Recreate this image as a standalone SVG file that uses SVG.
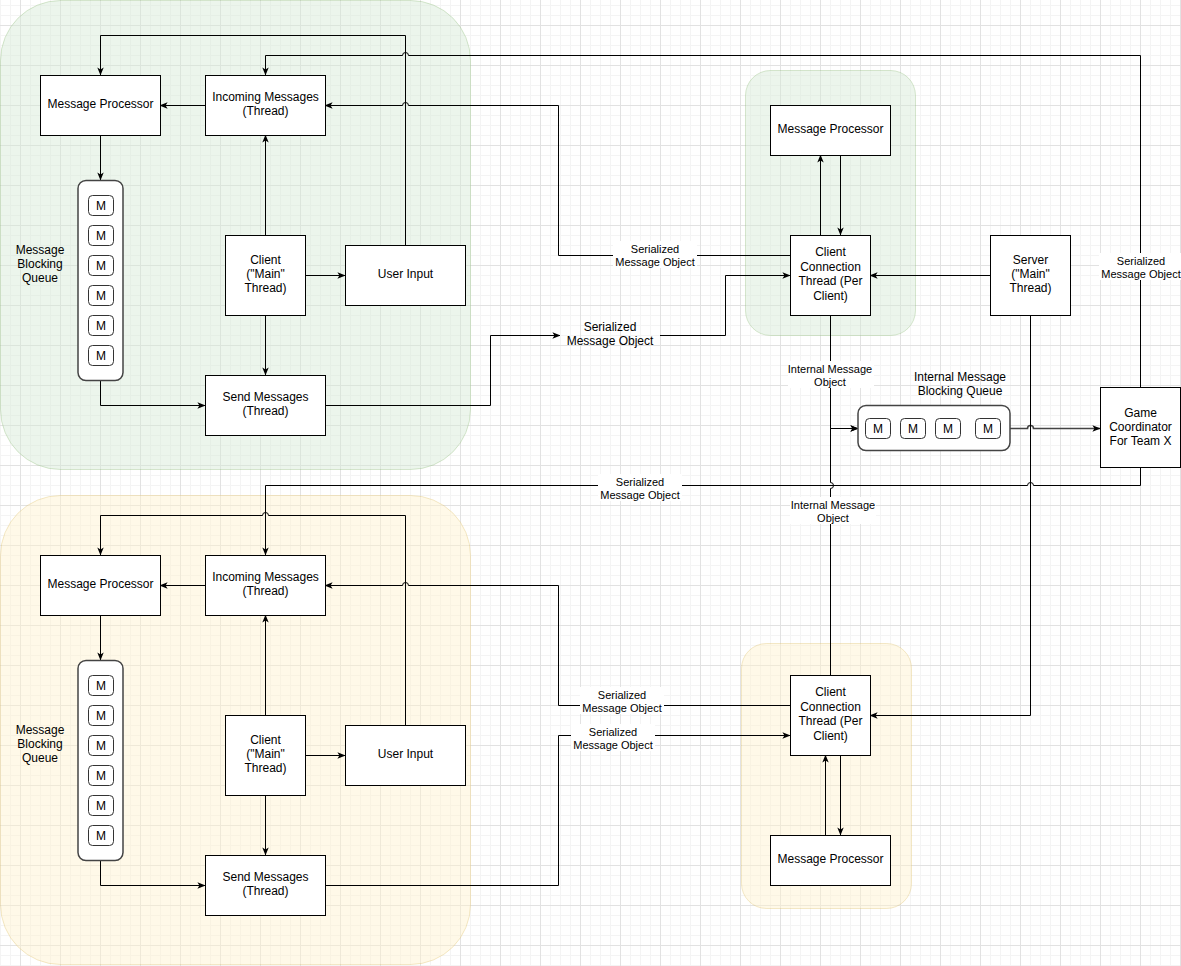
<svg xmlns="http://www.w3.org/2000/svg" width="1181" height="966" viewBox="0 0 1181 966">
<defs>
<pattern id="grid" x="20" y="25" width="40" height="40" patternUnits="userSpaceOnUse">
<path d="M10.5,0V40M20.5,0V40M30.5,0V40M0,10.5H40M0,20.5H40M0,30.5H40" stroke="#f4f4f4" stroke-width="1" fill="none"/>
<path d="M0.5,0V40M0,0.5H40" stroke="#e2e2e2" stroke-width="1" fill="none"/>
</pattern>
<marker id="arr" viewBox="0 0 10 10" refX="9.5" refY="5" markerWidth="8" markerHeight="8" orient="auto" markerUnits="userSpaceOnUse">
<path d="M0,1 L10,5 L0,9 L2.5,5 z" fill="#000"/>
</marker>
<style>
.node{fill:#fff;stroke:#000;stroke-width:1}
.q{fill:#fff;stroke:#444;stroke-width:1.5}
.m{fill:#fff;stroke:#333;stroke-width:1}
.t{font-family:"Liberation Sans",Arial,sans-serif;font-size:12px;fill:#000;text-anchor:middle}
.lt{font-family:"Liberation Sans",Arial,sans-serif;font-size:11px;fill:#000;text-anchor:middle}
.e{fill:none;stroke:#000;stroke-width:1}
.ea{fill:none;stroke:#000;stroke-width:1;marker-end:url(#arr)}
.lb{fill:#fff}
.gg{fill:#d5e8d4;fill-opacity:0.45;stroke:#82b366;stroke-opacity:0.3}
.gy{fill:#fff2cc;fill-opacity:0.45;stroke:#d6b656;stroke-opacity:0.3}
</style>
</defs>
<rect x="0" y="0" width="1181" height="966" fill="#fff"/>
<rect x="0" y="0" width="1181" height="966" fill="url(#grid)"/>

<g id="containers">
<rect class="gg" x="0.5" y="0.5" width="470" height="469" rx="60"/>
<rect class="gy" x="0.5" y="495.5" width="470" height="469" rx="60"/>
<rect class="gg" x="745.5" y="70.5" width="170" height="265" rx="25"/>
<rect class="gy" x="741.5" y="643.5" width="170" height="265" rx="25"/>
</g>

<g id="connectors">
<!-- top cluster -->
<path class="ea" d="M205,105.5H160"/>
<path class="ea" d="M100.5,135V180"/>
<path class="ea" d="M100.5,380V405.5H205"/>
<path class="ea" d="M265.5,235V135"/>
<path class="ea" d="M265.5,315V375"/>
<path class="ea" d="M305,275.5H345"/>
<path class="ea" d="M405.5,245V35.5H100.5V75"/>
<path class="ea" d="M1140.5,387V55.5H408.5A3,3 0 0 0 402.5,55.5H265.5V75"/>
<path class="ea" d="M790,255.5H558.5V105.5H408.5A3,3 0 0 0 402.5,105.5H325"/>
<path class="ea" d="M325,405.5H490.5V335.5H560"/>
<path class="ea" d="M660,335.5H725.5V275.5H790"/>
<!-- bottom cluster -->
<path class="ea" d="M205,585.5H160"/>
<path class="ea" d="M100.5,615V660"/>
<path class="ea" d="M100.5,860V885.5H205"/>
<path class="ea" d="M265.5,715V615"/>
<path class="ea" d="M265.5,795V855"/>
<path class="ea" d="M305,755.5H345"/>
<path class="ea" d="M405.5,725V515.5H268.5A3,3 0 0 0 262.5,515.5H100.5V555"/>
<path class="ea" d="M790,705.5H558.5V585.5H408.5A3,3 0 0 0 402.5,585.5H325"/>
<path class="ea" d="M325,885.5H558.5V735.5H790"/>
<!-- right side -->
<path class="ea" d="M990,275.5H870"/>
<path class="ea" d="M820.5,235V155"/>
<path class="ea" d="M840.5,155V235"/>
<path class="ea" d="M830.5,315V428.5H858"/>
<path class="ea" d="M830.5,675V488.5A3,3 0 0 0 830.5,482.5V428.5H858"/>
<path class="ea" d="M1010,428.5H1027.5A3,3 0 0 1 1033.5,428.5H1100" style="stroke:#444;stroke-width:1.6"/>
<path class="ea" d="M1140.5,467V485.5H1033.5A3,3 0 0 0 1027.5,485.5H265.5V555"/>
<path class="ea" d="M1030.5,315V715.5H870"/>
<path class="ea" d="M840.5,755V835"/>
<path class="ea" d="M825.5,835V755"/>
</g>

<g id="edge-labels">
<rect class="lb" x="613" y="241" width="84" height="27"/>
<text class="lt" x="655" y="253">Serialized</text>
<text class="lt" x="655" y="266">Message Object</text>
<rect class="lb" x="788" y="361" width="86" height="27"/>
<text class="lt" x="830" y="373">Internal Message</text>
<text class="lt" x="830" y="386">Object</text>
<rect class="lb" x="598" y="474" width="84" height="27"/>
<text class="lt" x="640" y="486">Serialized</text>
<text class="lt" x="640" y="499">Message Object</text>
<rect class="lb" x="790" y="497" width="86" height="27"/>
<text class="lt" x="833" y="509">Internal Message</text>
<text class="lt" x="833" y="522">Object</text>
<rect class="lb" x="1099" y="253" width="84" height="27"/>
<text class="lt" x="1141" y="265">Serialized</text>
<text class="lt" x="1141" y="278">Message Object</text>
<rect class="lb" x="580" y="687" width="84" height="27"/>
<text class="lt" x="622" y="699">Serialized</text>
<text class="lt" x="622" y="712">Message Object</text>
<rect class="lb" x="571" y="724" width="84" height="27"/>
<text class="lt" x="613" y="736">Serialized</text>
<text class="lt" x="613" y="749">Message Object</text>
</g>

<!-- top-left cluster -->
<g id="tl-message-processor"><rect class="node" x="40.5" y="75.5" width="120" height="60"/><text class="t" x="100.5" y="108">Message Processor</text></g>
<g id="tl-incoming"><rect class="node" x="205.5" y="75.5" width="120" height="60"/><text class="t" x="265.5" y="101">Incoming Messages</text><text class="t" x="265.5" y="115">(Thread)</text></g>
<g id="tl-queue">
<rect class="q" x="78" y="180.5" width="45" height="200" rx="8"/>
<rect class="m" x="88.5" y="195.5" width="25" height="20" rx="4"/><text class="t" x="101" y="209.5">M</text>
<rect class="m" x="88.5" y="225.5" width="25" height="20" rx="4"/><text class="t" x="101" y="239.5">M</text>
<rect class="m" x="88.5" y="255.5" width="25" height="20" rx="4"/><text class="t" x="101" y="269.5">M</text>
<rect class="m" x="88.5" y="285.5" width="25" height="20" rx="4"/><text class="t" x="101" y="299.5">M</text>
<rect class="m" x="88.5" y="315.5" width="25" height="20" rx="4"/><text class="t" x="101" y="329.5">M</text>
<rect class="m" x="88.5" y="345.5" width="25" height="20" rx="4"/><text class="t" x="101" y="359.5">M</text>
</g>
<g id="tl-queue-label"><text class="t" x="40" y="254">Message</text><text class="t" x="40" y="268">Blocking</text><text class="t" x="40" y="282">Queue</text></g>
<g id="tl-client"><rect class="node" x="225.5" y="235.5" width="80" height="80"/><text class="t" x="265.5" y="264">Client</text><text class="t" x="265.5" y="278">("Main"</text><text class="t" x="265.5" y="292">Thread)</text></g>
<g id="tl-user-input"><rect class="node" x="345.5" y="245.5" width="120" height="60"/><text class="t" x="405.5" y="278">User Input</text></g>
<g id="tl-send"><rect class="node" x="205.5" y="375.5" width="120" height="60"/><text class="t" x="265.5" y="401">Send Messages</text><text class="t" x="265.5" y="415">(Thread)</text></g>

<!-- bottom-left cluster -->
<g id="bl-message-processor"><rect class="node" x="40.5" y="555.5" width="120" height="60"/><text class="t" x="100.5" y="588">Message Processor</text></g>
<g id="bl-incoming"><rect class="node" x="205.5" y="555.5" width="120" height="60"/><text class="t" x="265.5" y="581">Incoming Messages</text><text class="t" x="265.5" y="595">(Thread)</text></g>
<g id="bl-queue">
<rect class="q" x="78" y="660.5" width="45" height="200" rx="8"/>
<rect class="m" x="88.5" y="675.5" width="25" height="20" rx="4"/><text class="t" x="101" y="689.5">M</text>
<rect class="m" x="88.5" y="705.5" width="25" height="20" rx="4"/><text class="t" x="101" y="719.5">M</text>
<rect class="m" x="88.5" y="735.5" width="25" height="20" rx="4"/><text class="t" x="101" y="749.5">M</text>
<rect class="m" x="88.5" y="765.5" width="25" height="20" rx="4"/><text class="t" x="101" y="779.5">M</text>
<rect class="m" x="88.5" y="795.5" width="25" height="20" rx="4"/><text class="t" x="101" y="809.5">M</text>
<rect class="m" x="88.5" y="825.5" width="25" height="20" rx="4"/><text class="t" x="101" y="839.5">M</text>
</g>
<g id="bl-queue-label"><text class="t" x="40" y="734">Message</text><text class="t" x="40" y="748">Blocking</text><text class="t" x="40" y="762">Queue</text></g>
<g id="bl-client"><rect class="node" x="225.5" y="715.5" width="80" height="80"/><text class="t" x="265.5" y="744">Client</text><text class="t" x="265.5" y="758">("Main"</text><text class="t" x="265.5" y="772">Thread)</text></g>
<g id="bl-user-input"><rect class="node" x="345.5" y="725.5" width="120" height="60"/><text class="t" x="405.5" y="758">User Input</text></g>
<g id="bl-send"><rect class="node" x="205.5" y="855.5" width="120" height="60"/><text class="t" x="265.5" y="881">Send Messages</text><text class="t" x="265.5" y="895">(Thread)</text></g>

<!-- server side -->
<g id="serialized-node"><text class="t" x="610" y="331">Serialized</text><text class="t" x="610" y="345">Message Object</text></g>
<g id="r-message-processor-top"><rect class="node" x="770.5" y="105.5" width="120" height="50"/><text class="t" x="830.5" y="133">Message Processor</text></g>
<g id="r-client-connection-top"><rect class="node" x="790.5" y="235.5" width="80" height="80"/><text class="t" x="830.5" y="256">Client</text><text class="t" x="830.5" y="270.5">Connection</text><text class="t" x="830.5" y="285">Thread (Per</text><text class="t" x="830.5" y="299.5">Client)</text></g>
<g id="server"><rect class="node" x="990.5" y="235.5" width="80" height="80"/><text class="t" x="1030.5" y="264">Server</text><text class="t" x="1030.5" y="278">("Main"</text><text class="t" x="1030.5" y="292">Thread)</text></g>
<g id="internal-queue-label"><text class="t" x="960" y="381">Internal Message</text><text class="t" x="960" y="395">Blocking Queue</text></g>
<g id="internal-queue">
<rect class="q" x="858" y="405.5" width="152" height="45" rx="8"/>
<rect class="m" x="865.5" y="418.5" width="25" height="20" rx="4"/><text class="t" x="878" y="432.5">M</text>
<rect class="m" x="900.5" y="418.5" width="25" height="20" rx="4"/><text class="t" x="913" y="432.5">M</text>
<rect class="m" x="935.5" y="418.5" width="25" height="20" rx="4"/><text class="t" x="948" y="432.5">M</text>
<rect class="m" x="975.5" y="418.5" width="25" height="20" rx="4"/><text class="t" x="988" y="432.5">M</text>
</g>
<g id="game-coordinator"><rect class="node" x="1100.5" y="387.5" width="80" height="80"/><text class="t" x="1140.5" y="417">Game</text><text class="t" x="1140.5" y="431">Coordinator</text><text class="t" x="1140.5" y="445">For Team X</text></g>
<g id="r-client-connection-bottom"><rect class="node" x="790.5" y="675.5" width="80" height="80"/><text class="t" x="830.5" y="696">Client</text><text class="t" x="830.5" y="710.5">Connection</text><text class="t" x="830.5" y="725">Thread (Per</text><text class="t" x="830.5" y="739.5">Client)</text></g>
<g id="r-message-processor-bottom"><rect class="node" x="770.5" y="835.5" width="120" height="50"/><text class="t" x="830.5" y="863">Message Processor</text></g>
</svg>
